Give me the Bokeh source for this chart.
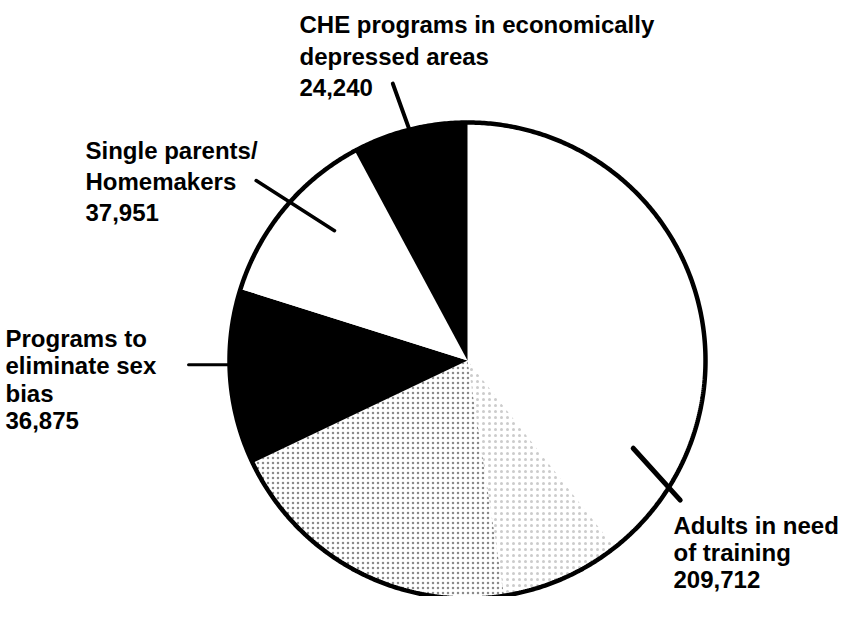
import numpy as np
from bokeh.plotting import figure
from bokeh.models import Range1d
from bokeh.embed import file_html
from bokeh.resources import INLINE
from bokeh.core.properties import value

# ---------------- data ----------------
categories = [
    "Adults in need of training",
    "Programs to eliminate sex bias",
    "Single parents/Homemakers",
    "CHE programs in economically depressed areas",
]
values = [209712, 36875, 37951, 24240]
label_lines = [
    ["Adults in need", "of training"],
    ["Programs to", "eliminate sex", "bias"],
    ["Single parents/", "Homemakers"],
    ["CHE programs in economically", "depressed areas"],
]

# ---------------- styles / layout ----------------
slice_fills = ["white", "black", "white", "black"]
stippled = [True, False, False, False]
CX, CY, R = 475.0, 368.0, 238.0          # pie centre / radius (screen px)
label_x = [681, 13, 93, 307]
label_y0 = [533, 346, 158, 32]
line_gap = [27.0, 27.3, 31.0, 31.5]
leader_offset_deg = [0.0, 3.0, 2.1, 0.0]   # shift of anchor from slice middle
leader_dir_deg = [47.8, 180.0, -147.4, -109.8]  # outward direction (screen, y down)
leader_out = [17, 41, 40, 49]
leader_in = [53, 5, 53, 5]
leader_w = [5, 3, 3.5, 4]

W, H = 840, 596
p = figure(frame_width=W, frame_height=H, output_backend="svg", toolbar_location=None,
           x_range=Range1d(8, 8 + W), y_range=Range1d(8 + H, 8),
           x_axis_type=None, y_axis_type=None, title=None, min_border=0)
p.grid.visible = False
p.outline_line_color = None
p.background_fill_color = "white"
p.border_fill_color = "white"

total = float(sum(values))
fracs = [v / total for v in values]
starts = np.cumsum([0.0] + fracs[:-1]) * 360.0
ends = np.cumsum(fracs) * 360.0


def pt(theta_deg, r=R):
    t = np.radians(theta_deg)
    return CX + r * np.sin(t), CY - r * np.cos(t)


def sector(a0, a1, r=R):
    th = np.linspace(a0, a1, max(8, int(abs(a1 - a0) * 2)))
    xs, ys = pt(th, r)
    return [CX] + list(xs) + [CX], [CY] + list(ys) + [CY]


xs_all, ys_all = [], []
for a0, a1 in zip(starts, ends):
    x, y = sector(a0, a1)
    xs_all.append(x)
    ys_all.append(y)

p.patches(xs=xs_all, ys=ys_all, fill_color=slice_fills, line_color=None)

# stipple texture on the adults slice (denser towards the lower left)
for i, st in enumerate(stippled):
    if not st:
        continue
    span = ends[i] - starts[i]
    x, y = sector(starts[i] + span * 0.58, starts[i] + span * 0.70)
    p.patch(x, y, fill_alpha=0, line_color=None, hatch_pattern="dot",
            hatch_color="black", hatch_scale=6, hatch_weight=1, hatch_alpha=0.2)
    x, y = sector(starts[i] + span * 0.70, ends[i])
    p.patch(x, y, fill_alpha=0, line_color=None, hatch_pattern="dot",
            hatch_color="black", hatch_scale=5, hatch_weight=1, hatch_alpha=0.45)

# outline
th = np.linspace(0, 360, 721)
ox, oy = pt(th)
p.line(ox, oy, line_color="black", line_width=4.5)

# leader lines
x0s, y0s, x1s, y1s = [], [], [], []
for i in range(len(values)):
    mid = (starts[i] + ends[i]) / 2 + leader_offset_deg[i]
    ax, ay = pt(mid)
    d = np.radians(leader_dir_deg[i])
    ux, uy = np.cos(d), np.sin(d)
    x0s.append(ax - ux * leader_in[i]); y0s.append(ay - uy * leader_in[i])
    x1s.append(ax + ux * leader_out[i]); y1s.append(ay + uy * leader_out[i])
p.segment(x0=x0s, y0=y0s, x1=x1s, y1=y1s, line_color="black",
          line_width=leader_w, line_cap="round")

# labels
tx, ty, tt = [], [], []
for i in range(len(values)):
    lines = label_lines[i] + [f"{values[i]:,}"]
    for k, s in enumerate(lines):
        tx.append(label_x[i]); ty.append(label_y0[i] + k * line_gap[i]); tt.append(s)
p.text(x=tx, y=ty, text=tt, text_font=value("Liberation Sans"), text_font_style="bold",
       text_font_size="24px", text_baseline="alphabetic", text_align="left",
       text_color="black")

open("out.html", "w").write(file_html(p, INLINE))
